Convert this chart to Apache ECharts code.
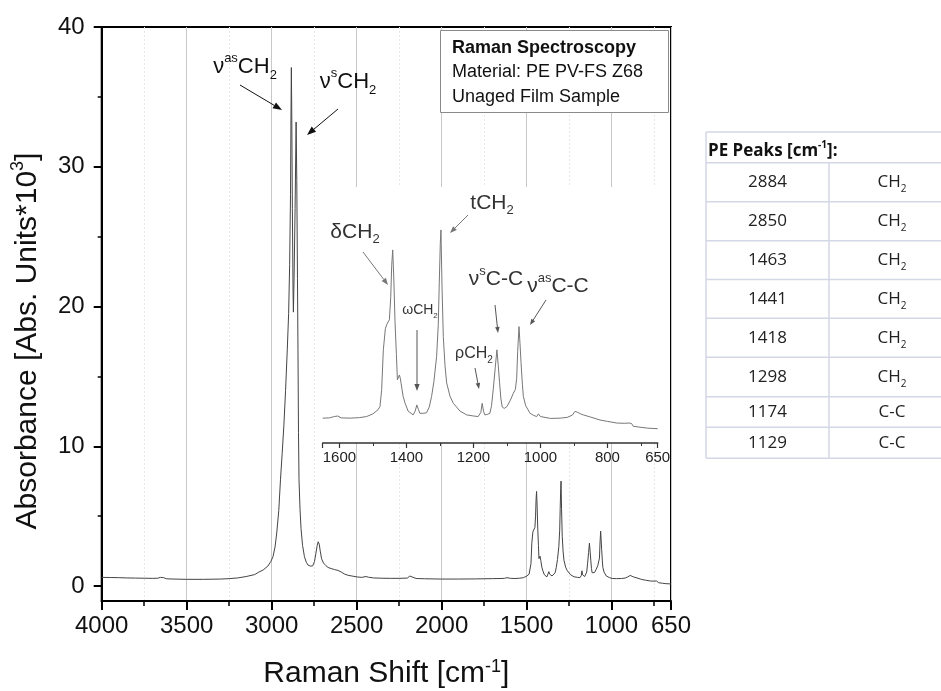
<!DOCTYPE html>
<html><head><meta charset="utf-8">
<script src="https://cdn.jsdelivr.net/npm/echarts@6/dist/echarts.min.js"></script>
<style>html,body{margin:0;padding:0;background:#fff}#c{width:941px;height:691px}</style>
</head><body><div id="c"></div>
<script>
// ---- data ----
const shift = [4000,3950,3900,3850,3800,3750,3700,3670,3655,3645,3635,3620,3580,3500,3400,3300,3250,3200,3150,3100,3075,3050,3022,3005,2992,2980,2970,2958,2948,2938,2928,2918,2908,2900,2894,2889,2886,2884,2882,2878,2874,2872,2868,2862,2856,2852,2848,2845,2842,2839,2833,2827,2818,2807,2796,2786,2770,2758,2748,2740,2732,2726,2720,2714,2706,2695,2680,2668,2650,2630,2610,2601,2590,2570,2550,2520,2497,2470,2445,2430,2400,2350,2300,2250,2200,2188,2178,2150,2100,2000,1900,1800,1700,1650,1630,1615,1605,1595,1568,1540,1519,1500,1485,1479,1474,1469,1463,1459,1455,1451,1447,1444,1441,1438,1434,1430,1427,1424,1421,1418,1416,1410,1404,1395,1380,1374,1369,1364,1360,1350,1340,1332,1325,1318,1310,1305,1302,1299,1297,1294,1290,1285,1280,1270,1260,1240,1220,1200,1186,1178,1174,1170,1166,1158,1151,1146,1141,1135,1130,1126,1122,1118,1114,1108,1100,1090,1081,1075,1071,1068,1064,1061,1058,1054,1051,1044,1031,1020,1011,1006,1004,1000,996,970,941,920,905,897,890,880,872,850,822,800,772,750,735,728,723,700,680,650];
const absorbance = [0.62,0.61,0.6,0.58,0.57,0.56,0.55,0.56,0.62,0.66,0.6,0.52,0.5,0.48,0.48,0.5,0.53,0.58,0.68,0.82,1.0,1.15,1.43,1.75,2.1,2.8,3.8,5.4,7.6,9.5,11.5,14,16.9,19.5,23,28,34,37.1,34.5,27,21,19.6,22,27,33.2,29,22,16.9,11,7.6,5.5,4.1,2.9,2.1,1.7,1.5,1.42,1.45,1.75,2.3,2.9,3.17,3.0,2.5,1.95,1.65,1.45,1.33,1.25,1.18,1.12,1.1,1.0,0.85,0.77,0.7,0.65,0.62,0.68,0.63,0.58,0.56,0.55,0.55,0.57,0.72,0.6,0.54,0.52,0.5,0.5,0.51,0.53,0.54,0.55,0.6,0.62,0.55,0.54,0.56,0.6,0.7,0.85,0.97,1.6,3.07,3.85,4.0,4.1,4.18,5.0,6.2,6.77,5.8,4.07,2.9,1.96,2.0,2.14,2.0,1.83,1.35,1.09,0.8,0.66,0.8,1.03,0.85,0.72,0.72,0.74,0.95,1.34,1.9,2.82,4.0,5.55,7.0,7.51,5.5,3.56,2.5,1.85,1.35,1.09,0.8,0.66,0.62,0.6,0.75,1.09,0.8,0.66,0.68,0.72,1.0,1.59,2.4,3.07,2.5,1.85,1.25,0.95,0.9,0.97,1.2,1.46,1.6,2.0,3.0,3.93,3.3,2.6,1.8,1.34,1.0,0.72,0.64,0.6,0.7,0.72,0.6,0.54,0.53,0.54,0.57,0.65,0.79,0.76,0.7,0.66,0.58,0.47,0.42,0.36,0.35,0.36,0.34,0.24,0.2,0.17,0.15];
const peakShifts = [2884, 2850, 1463, 1441, 1418, 1298, 1174, 1129];
const peakGroups = ['CH2', 'CH2', 'CH2', 'CH2', 'CH2', 'CH2', 'C-C', 'C-C'];
const yTickValues = [0, 10, 20, 30, 40];
const mainXRange = [650, 4000];
const mainYRange = [-1.07, 40];
const insetXRange = [650, 1650];
const insetYRange = [-0.38, 9.1];
const infoLines = ['Raman Spectroscopy', 'Material: PE PV-FS Z68', 'Unaged Film Sample'];

// ---- build ----
const pts = shift.map((s, i) => [s, absorbance[i]]);
const insetPts = pts.filter(p => p[0] >= insetXRange[0] && p[0] <= insetXRange[1]);

const FF = 'Liberation Sans, Arial, sans-serif';
const TF = 'Open Sans, Noto Sans, sans-serif';
const plain = v => String(v);

function arrow(x1, y1, x2, y2, color, w, head, z) {
  const a = Math.atan2(y2 - y1, x2 - x1);
  const hw = head * 0.38;
  const bx = x2 - head * Math.cos(a), by = y2 - head * Math.sin(a);
  const px = -Math.sin(a), py = Math.cos(a);
  return [
    { type: 'line', z: z, shape: { x1: x1, y1: y1, x2: bx, y2: by }, style: { stroke: color, lineWidth: w } },
    { type: 'polygon', z: z, shape: { points: [[x2, y2], [bx + px * hw, by + py * hw], [bx - px * hw, by - py * hw]] }, style: { fill: color } }
  ];
}
function richText(x, y, text, size, color, z, align) {
  const sub = Math.round(size * 0.6);
  const lh = Math.round(size * 1.35);
  return {
    type: 'text', x: x, y: y, z: z,
    style: {
      text: text, align: align || 'center', verticalAlign: 'middle', fill: color,
      fontFamily: FF, fontSize: size,
      rich: {
        g: { fontSize: size, fontFamily: FF, lineHeight: lh, fill: color, verticalAlign: 'middle' },
        sp: { fontSize: sub, fontFamily: FF, lineHeight: sub + 2, fill: color, verticalAlign: 'top' },
        sb: { fontSize: sub, fontFamily: FF, lineHeight: sub + 2, fill: color, verticalAlign: 'bottom' }
      }
    }
  };
}

const gfx = [];
// y-axis title (rotated)
gfx.push({ type: 'text', z: 7, x: 27.5, y: 341, rotation: Math.PI / 2, style: {
  text: '{t|Absorbance [Abs. Units*10}{sp|3}{t|]}', align: 'center', verticalAlign: 'middle',
  rich: {
    t: { fontFamily: FF, fontSize: 30, fill: '#111', lineHeight: 36, verticalAlign: 'middle' },
    sp: { fontFamily: FF, fontSize: 18, fill: '#111', lineHeight: 18, verticalAlign: 'top' }
  } } });
// inset white background
gfx.push({ type: 'rect', z: 5, shape: { x: 316, y: 187, width: 353, height: 256 }, style: { fill: '#fff' } });
// info box
gfx.push({ type: 'rect', z: 6, shape: { x: 440.5, y: 30.5, width: 228, height: 82 }, style: { fill: '#fff', stroke: '#8a8a8a', lineWidth: 1 } });
infoLines.forEach((t, i) => {
  gfx.push({ type: 'text', z: 7, x: 452, y: 48 + i * 24.5, style: { text: t, fontFamily: FF, fontSize: 18, fontWeight: i === 0 ? 'bold' : 'normal', fill: '#111', align: 'left', verticalAlign: 'middle' } });
});
// main annotations
gfx.push(richText(245, 67, '{g|ν}{sp|as}{g|CH}{sb|2}', 22, '#111', 12));
gfx.push(...arrow(240, 85, 282, 110, '#111', 1, 9, 12));
gfx.push(richText(348, 82, '{g|ν}{sp|s}{g|CH}{sb|2}', 22, '#111', 12));
gfx.push(...arrow(338, 109, 307, 135, '#111', 1, 9, 12));
// inset annotations
const ic = '#333', ia = '#777';
gfx.push(richText(355, 232, '{g|δCH}{sb|2}', 21, ic, 12));
gfx.push(...arrow(363, 252, 388, 285, ia, 1, 7, 12));
gfx.push(richText(492, 203, '{g|tCH}{sb|2}', 21, ic, 12));
gfx.push(...arrow(468, 215, 450, 233, ia, 1, 7, 12));
gfx.push(richText(420, 310, '{g|ωCH}{sb|2}', 14, ic, 12));
gfx.push(...arrow(417, 330, 417, 391, '#555', 1, 7, 12));
gfx.push(richText(474, 354, '{g|ρCH}{sb|2}', 16, ic, 12));
gfx.push(...arrow(475, 368, 479, 389, '#555', 1, 6, 12));
gfx.push(richText(496, 279, '{g|ν}{sp|s}{g|C-C}', 21, ic, 12));
gfx.push(...arrow(495, 305, 498, 333, '#555', 1, 6, 12));
gfx.push(richText(558, 286, '{g|ν}{sp|as}{g|C-C}', 21, ic, 12));
gfx.push(...arrow(546, 300, 530, 325, '#555', 1, 6, 12));

// table
const tL = 706, tM = 829, tR = 960, tc = '#d3d7e6', tTop = 132;
const rowEdges = [162.7, 201.7, 240.7, 279.5, 318.3, 357.3, 396.7, 427.3, 458.3];
gfx.push({ type: 'text', z: 7, x: 708, y: 151, style: { text: '{b|PE Peaks [cm}{bs|-1}{b|]:}', rich: {
  b: { fontFamily: TF, fontSize: 17, fontWeight: 'bold', fill: '#111', lineHeight: 22, verticalAlign: 'middle' },
  bs: { fontFamily: TF, fontSize: 10, fontWeight: 'bold', fill: '#111', lineHeight: 12, verticalAlign: 'top' } }, align: 'left', verticalAlign: 'middle' } });
gfx.push({ type: 'line', z: 7, shape: { x1: tL, y1: tTop, x2: tR, y2: tTop }, style: { stroke: tc, lineWidth: 1.5 } });
gfx.push({ type: 'line', z: 7, shape: { x1: tL, y1: tTop, x2: tL, y2: rowEdges[rowEdges.length - 1] }, style: { stroke: tc, lineWidth: 1.5 } });
gfx.push({ type: 'line', z: 7, shape: { x1: tM, y1: rowEdges[0], x2: tM, y2: rowEdges[rowEdges.length - 1] }, style: { stroke: tc, lineWidth: 1.5 } });
rowEdges.forEach(yv => gfx.push({ type: 'line', z: 7, shape: { x1: tL, y1: yv, x2: tR, y2: yv }, style: { stroke: tc, lineWidth: 1.5 } }));
peakShifts.forEach((p, i) => {
  const yc = (rowEdges[i] + rowEdges[i + 1]) / 2;
  gfx.push({ type: 'text', z: 7, x: (tL + tM) / 2, y: yc, style: { text: String(p), fontFamily: TF, fontSize: 17, fill: '#222', align: 'center', verticalAlign: 'middle' } });
  const g = peakGroups[i];
  const txt = g === 'CH2' ? '{n|CH}{s|2}' : '{n|' + g + '}';
  gfx.push({ type: 'text', z: 7, x: 892, y: yc, style: { text: txt, align: 'center', verticalAlign: 'middle', rich: {
    n: { fontFamily: TF, fontSize: 17, fill: '#222', lineHeight: 24, verticalAlign: 'middle' },
    s: { fontFamily: TF, fontSize: 10, fill: '#222', lineHeight: 12, verticalAlign: 'bottom' } } } });
});

const chart = echarts.init(document.getElementById('c'), null, { renderer: 'canvas' });
chart.setOption({
  animation: false,
  backgroundColor: '#fff',
  grid: [
    { left: 101.7, top: 27, width: 569.3, height: 574, show: true, borderColor: '#000', borderWidth: 2, backgroundColor: 'transparent', containLabel: false, outerBoundsMode: 'none' },
    { left: 322.7, top: 187, width: 335, height: 256, show: false, containLabel: false, outerBoundsMode: 'none' }
  ],
  xAxis: [
    {
      type: 'value', gridIndex: 0, min: mainXRange[0], max: mainXRange[1], inverse: true,
      axisLine: { show: true, onZero: false, lineStyle: { color: '#000', width: 2 } },
      axisTick: { show: true, inside: false, length: 9, lineStyle: { color: '#000', width: 2 } },
      minorTick: { show: true, splitNumber: 2, length: 5, lineStyle: { color: '#000', width: 1.5 } },
      splitLine: { show: true, lineStyle: { color: '#c8c8c8', width: 1 } },
      minorSplitLine: { show: true, lineStyle: { color: '#e6e6e6', width: 1, type: [2, 2] } },
      axisLabel: { fontSize: 24, color: '#111', margin: 13, fontFamily: FF, formatter: plain },
      name: '{t|Raman Shift [cm}{sp|-1}{t|]}', nameLocation: 'middle', nameGap: 57,
      nameTextStyle: { rich: {
        t: { fontFamily: FF, fontSize: 30, color: '#111', lineHeight: 32, verticalAlign: 'middle' },
        sp: { fontFamily: FF, fontSize: 18, color: '#111', lineHeight: 16, verticalAlign: 'top' } } }
    },
    {
      type: 'value', gridIndex: 1, min: insetXRange[0], max: insetXRange[1], inverse: true, z: 10,
      axisLine: { show: true, onZero: false, lineStyle: { color: '#333', width: 1.5 } },
      axisTick: { show: true, length: 5, lineStyle: { color: '#333', width: 1.2 } },
      minorTick: { show: true, splitNumber: 2, length: 3, lineStyle: { color: '#333', width: 1 } },
      splitLine: { show: false },
      axisLabel: { fontSize: 15, color: '#222', margin: 7, fontFamily: FF, showMaxLabel: false, formatter: plain }
    }
  ],
  yAxis: [
    {
      type: 'value', gridIndex: 0, min: mainYRange[0], max: mainYRange[1],
      axisLine: { show: true, onZero: false, lineStyle: { color: '#000', width: 2 } },
      axisTick: { show: true, length: 8, customValues: yTickValues, lineStyle: { color: '#000', width: 2 } },
      minorTick: { show: true, splitNumber: 2, length: 4, lineStyle: { color: '#000', width: 1.5 } },
      splitLine: { show: false },
      axisLabel: { fontSize: 24, color: '#111', margin: 17, fontFamily: FF, customValues: yTickValues, formatter: plain }
    },
    { type: 'value', gridIndex: 1, min: insetYRange[0], max: insetYRange[1], show: false }
  ],
  series: [
    { type: 'line', xAxisIndex: 0, yAxisIndex: 0, data: pts, showSymbol: false, symbol: 'none', z: 2,
      lineStyle: { color: '#444', width: 1 } },
    { type: 'line', xAxisIndex: 1, yAxisIndex: 1, data: insetPts, showSymbol: false, symbol: 'none', z: 11,
      lineStyle: { color: '#777', width: 1 } }
  ],
  graphic: { elements: gfx }
});
</script>
</body></html>
